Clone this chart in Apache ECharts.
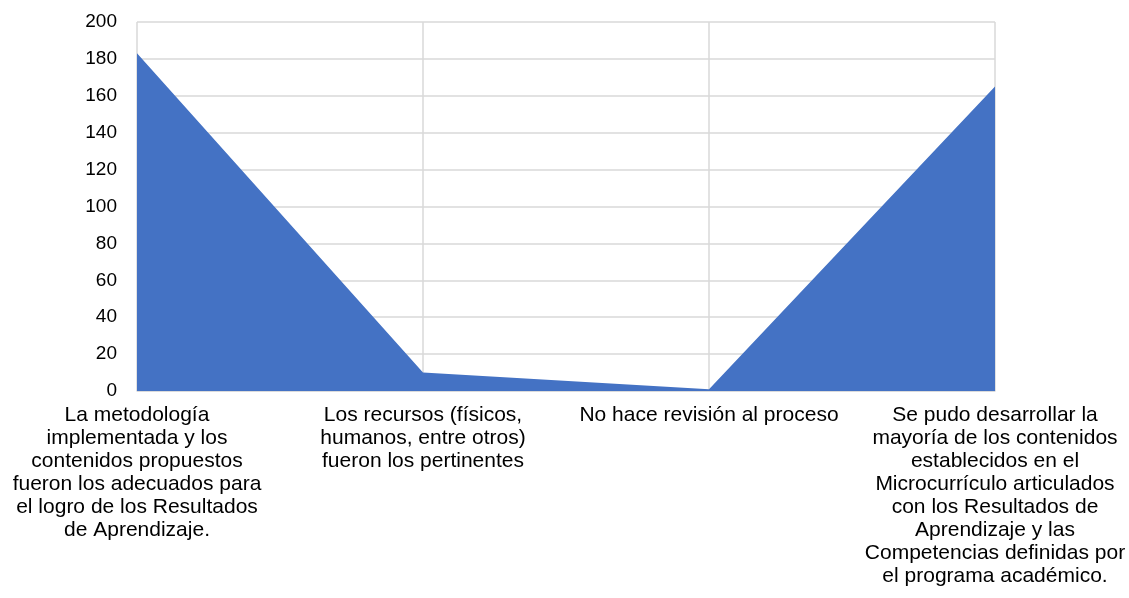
<!DOCTYPE html>
<html>
<head>
<meta charset="utf-8">
<script src="https://cdn.jsdelivr.net/npm/echarts@6/dist/echarts.min.js"></script>
<style>html,body{margin:0;padding:0;background:#fff;}#c{width:1129px;height:598px;}</style>
</head>
<body>
<div id="c"></div>
<script>
const categories = [
  "La metodología\nimplementada y los\ncontenidos propuestos\nfueron los adecuados para\nel logro de los Resultados\nde Aprendizaje.",
  "Los recursos (físicos,\nhumanos, entre otros)\nfueron los pertinentes",
  "No hace revisión al proceso",
  "Se pudo desarrollar la\nmayoría de los contenidos\nestablecidos en el\nMicrocurrículo articulados\ncon los Resultados de\nAprendizaje y las\nCompetencias definidas por\nel programa académico."
];
const values = [183, 10, 1, 165];
const yTicks = { min: 0, max: 200, interval: 20 };

const chart = echarts.init(document.getElementById('c'), null, { renderer: 'canvas' });
chart.setOption({
  animation: false,
  grid: { left: 137, right: 134, top: 22, bottom: 207, containLabel: false },
  xAxis: {
    type: 'category',
    data: categories,
    boundaryGap: false,
    axisLine: { show: true, lineStyle: { color: '#d9d9d9', width: 1.5 } },
    axisTick: { show: false },
    splitLine: { show: true, lineStyle: { color: '#d9d9d9', width: 1.5 } },
    axisLabel: {
      interval: 0,
      margin: 13,
      color: '#000',
      fontFamily: 'Liberation Sans, Arial, sans-serif',
      fontSize: 21,
      lineHeight: 23
    }
  },
  yAxis: {
    type: 'value',
    min: yTicks.min,
    max: yTicks.max,
    interval: yTicks.interval,
    axisLine: { show: false },
    axisTick: { show: false },
    splitLine: { show: true, lineStyle: { color: '#d9d9d9', width: 1.5 } },
    axisLabel: {
      margin: 20,
      color: '#000',
      fontFamily: 'Liberation Sans, Arial, sans-serif',
      fontSize: 19
    }
  },
  series: [{
    type: 'line',
    data: values,
    symbol: 'none',
    lineStyle: { width: 0 },
    areaStyle: { color: '#4472C4', opacity: 1 },
    itemStyle: { color: '#4472C4' }
  }]
});
</script>
</body>
</html>
